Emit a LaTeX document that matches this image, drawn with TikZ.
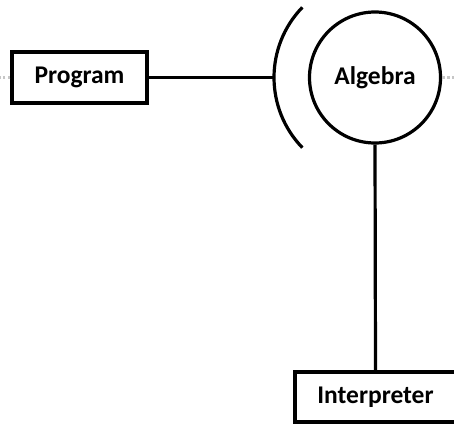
\documentclass[tikz,border=0pt]{standalone}
\usepackage{fontspec}
\setmainfont{Carlito}
\usetikzlibrary{calc}
\begin{document}
\begin{tikzpicture}[x=1pt,y=-1pt,
  line width=3.2pt,
  box/.style={draw=black, line width=3.2pt, rectangle, inner sep=0pt,
              font=\fontsize{25.5}{28}\selectfont\bfseries},
  ball/.style={draw=black, line width=3.2pt, circle, inner sep=0pt,
              font=\fontsize{25.5}{28}\selectfont\bfseries},
  stub/.style={draw=gray!45, line width=2.5pt, dash pattern=on 2.5pt off 2.5pt}]
\useasboundingbox (0,0) rectangle (454,424);
\fill[white] (0,0) rectangle (454,424);

% components
\node[box, minimum width=135pt, minimum height=51pt] (prog) at (79.5,77.5) {Program};
\node[ball, minimum size=131pt] (alg) at (375,77.5) {Algebra};
\node[box, minimum width=161pt, minimum height=50pt] (interp) at (375.5,397) {Interpreter};

% required-interface socket around the algebra
\draw (alg.center) ++(136:101) arc (136:224:101);
\coordinate (sock) at ($(alg.center)+(-101,0)$);

% connectors
\draw (prog.east) -- (sock);
\draw (alg.south) -- (interp.north);

% continuations leaving the frame
\coordinate (lend) at (0,77.5);
\coordinate (rend) at (454,77.5);
\draw[stub] (prog.west) -- (lend);
\draw[stub] (alg.east) -- (rend);
\end{tikzpicture}
\end{document}
